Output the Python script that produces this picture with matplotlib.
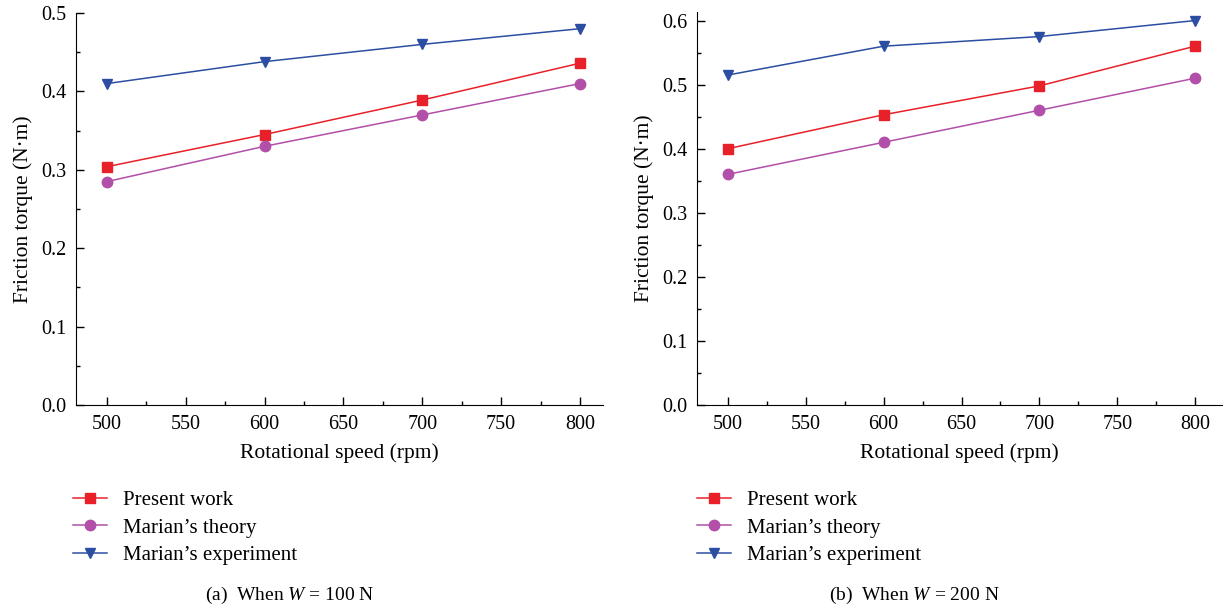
import matplotlib
matplotlib.use('Agg')
import matplotlib.pyplot as plt
from matplotlib.ticker import MultipleLocator

plt.rcParams['font.family'] = ['Liberation Serif', 'DejaVu Serif']
plt.rcParams['mathtext.fontset'] = 'custom'
plt.rcParams['mathtext.it'] = 'Liberation Serif:italic'
plt.rcParams['mathtext.rm'] = 'Liberation Serif'

speed = [500, 600, 700, 800]
labels = ['Present work', "Marian\u2019s theory", "Marian\u2019s experiment"]

# W = 100 N
present_a = [0.304, 0.345, 0.389, 0.436]
theory_a = [0.285, 0.330, 0.370, 0.410]
exper_a = [0.410, 0.438, 0.460, 0.480]

# W = 200 N
present_b = [0.400, 0.453, 0.498, 0.560]
theory_b = [0.360, 0.410, 0.460, 0.510]
exper_b = [0.515, 0.560, 0.575, 0.600]

colors = ['#e8202a', '#b24fa8', '#2c4ea2']
markers = ['s', 'o', 'v']

fig = plt.figure(figsize=(12.29, 6.14), dpi=100)
ax1 = fig.add_axes([0.0618, 0.3404, 0.4288, 0.6384])
ax2 = fig.add_axes([0.5671, 0.3404, 0.4272, 0.6397])

panels = [
    (ax1, [present_a, theory_a, exper_a], (480.3, 814.6), 0.5, '(a)  When $W$ = 100 N', 0.236, 0.0594),
    (ax2, [present_b, theory_b, exper_b], (480.1, 817.3), 0.613, '(b)  When $W$ = 200 N', 0.744, 0.567),
]

for ax, series, xl, ytop, caption, cx, lx in panels:
    for vals, c, m, lab in zip(series, colors, markers, labels):
        ax.plot(speed, vals, color=c, marker=m, markersize=7.5, linewidth=1.1, label=lab)
    ax.set_xlim(*xl)
    ax.set_ylim(0, ytop)
    ax.xaxis.set_major_locator(MultipleLocator(50))
    ax.xaxis.set_minor_locator(MultipleLocator(25))
    ax.yaxis.set_major_locator(MultipleLocator(0.1))
    ax.yaxis.set_minor_locator(MultipleLocator(0.05))
    ax.yaxis.set_major_formatter(matplotlib.ticker.FormatStrFormatter('%.1f'))
    for s in ['top', 'right']:
        ax.spines[s].set_visible(False)
    ax.tick_params(which='major', direction='in', length=6, width=1, labelsize=14.5, pad=7)
    ax.tick_params(which='minor', direction='in', length=3, width=1)
    ax.set_xlabel('Rotational speed (rpm)', fontsize=15.5, labelpad=7)
    ax.set_ylabel('Friction torque (N\u00b7m)', fontsize=15.5, labelpad=6)
    ax.legend(loc='upper left', bbox_to_anchor=(lx, 0.201),
              bbox_transform=fig.transFigure, frameon=False, fontsize=15,
              handlelength=1.65, handletextpad=0.75, labelspacing=0.38, borderaxespad=0,
              borderpad=0)
    fig.text(cx, 0.03, caption, ha='center', va='center', fontsize=14)

fig.savefig('out.png', dpi=100)
